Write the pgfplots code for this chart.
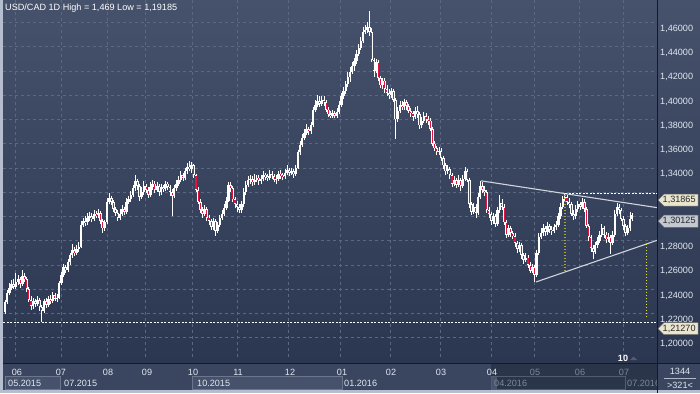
\documentclass[border=0pt]{standalone}
\usepackage{pgfplots}
\pgfplotsset{compat=1.18}
\usepackage{pgfplotstable}
\usepackage{fontspec}
\setmainfont{Liberation Sans}
\definecolor{bgtop}{HTML}{46526C}
\definecolor{bgbot}{HTML}{2B3650}
\definecolor{gridc}{HTML}{5C6882}
\definecolor{candred}{HTML}{E0143C}
\definecolor{panelc}{HTML}{3A4660}
\definecolor{boxc}{HTML}{46526B}
\definecolor{boxedge}{HTML}{6A768E}
\definecolor{ovlc}{HTML}{2B3549}
\definecolor{framec}{HTML}{B4BECE}
\definecolor{labc}{HTML}{E2E8F2}
\definecolor{greyc}{HTML}{7D8799}
\definecolor{tagbeige}{HTML}{E9E5CE}
\definecolor{taggrey}{HTML}{C3C8D1}
\definecolor{trendc}{HTML}{D0D4DC}
\definecolor{olivey}{HTML}{A8A82A}
\definecolor{yellowd}{HTML}{E6E020}
\definecolor{tric}{HTML}{5A5A6E}
\newcommand\lab{\fontsize{9.1bp}{11bp}\selectfont}

\pgfplotstableread{
o h l c
1.2215 1.2310 1.2195 1.2290
1.2290 1.2395 1.2275 1.2370
1.2370 1.2450 1.2350 1.2410
1.2410 1.2475 1.2390 1.2440
1.2440 1.2480 1.2400 1.2420
1.2420 1.2530 1.2405 1.2460
1.2460 1.2520 1.2430 1.2480
1.2480 1.2500 1.2410 1.2440
1.2440 1.2560 1.2425 1.2510
1.2510 1.2535 1.2455 1.2480
1.2480 1.2500 1.2380 1.2400
1.2400 1.2420 1.2290 1.2310
1.2310 1.2340 1.2230 1.2260
1.2260 1.2330 1.2240 1.2300
1.2300 1.2320 1.2250 1.2280
1.2280 1.2340 1.2260 1.2310
1.2310 1.2325 1.2220 1.2250
1.2250 1.2270 1.2127 1.2220
1.2220 1.2320 1.2200 1.2300
1.2300 1.2330 1.2245 1.2270
1.2270 1.2345 1.2255 1.2320
1.2320 1.2350 1.2280 1.2300
1.2300 1.2375 1.2285 1.2350
1.2350 1.2370 1.2300 1.2320
1.2320 1.2360 1.2290 1.2330
1.2330 1.2470 1.2315 1.2450
1.2450 1.2545 1.2430 1.2520
1.2520 1.2610 1.2500 1.2580
1.2580 1.2600 1.2530 1.2560
1.2560 1.2650 1.2540 1.2620
1.2620 1.2700 1.2600 1.2680
1.2680 1.2770 1.2660 1.2720
1.2720 1.2750 1.2670 1.2700
1.2700 1.2760 1.2680 1.2730
1.2730 1.2790 1.2710 1.2750
1.2750 1.2960 1.2740 1.2930
1.2930 1.2990 1.2910 1.2960
1.2960 1.3000 1.2920 1.2950
1.2950 1.3030 1.2930 1.2990
1.2990 1.3040 1.2960 1.3000
1.3000 1.3030 1.2950 1.2980
1.2980 1.3050 1.2960 1.3020
1.3020 1.3045 1.2985 1.3010
1.3010 1.3060 1.2990 1.3030
1.3030 1.3045 1.2940 1.2960
1.2960 1.2975 1.2860 1.2900
1.2900 1.2970 1.2880 1.2950
1.2950 1.3150 1.2940 1.3120
1.3120 1.3190 1.3100 1.3150
1.3150 1.3170 1.3090 1.3120
1.3120 1.3135 1.3040 1.3060
1.3060 1.3080 1.3000 1.3030
1.3030 1.3050 1.2960 1.2990
1.2990 1.3060 1.2970 1.3020
1.3020 1.3090 1.3000 1.3060
1.3060 1.3080 1.3010 1.3040
1.3040 1.3150 1.3020 1.3120
1.3120 1.3170 1.3100 1.3140
1.3140 1.3210 1.3120 1.3180
1.3180 1.3260 1.3160 1.3230
1.3230 1.3340 1.3210 1.3290
1.3290 1.3310 1.3220 1.3250
1.3250 1.3270 1.3130 1.3160
1.3160 1.3240 1.3140 1.3200
1.3200 1.3290 1.3180 1.3250
1.3250 1.3270 1.3190 1.3220
1.3220 1.3240 1.3150 1.3180
1.3180 1.3280 1.3160 1.3240
1.3240 1.3300 1.3220 1.3270
1.3270 1.3290 1.3190 1.3220
1.3220 1.3280 1.3200 1.3250
1.3250 1.3265 1.3170 1.3200
1.3200 1.3270 1.3180 1.3240
1.3240 1.3260 1.3200 1.3230
1.3230 1.3290 1.3210 1.3270
1.3270 1.3285 1.3215 1.3240
1.3240 1.3260 1.3170 1.3200
1.3200 1.3225 1.3000 1.3170
1.3170 1.3255 1.3150 1.3230
1.3230 1.3300 1.3210 1.3270
1.3270 1.3330 1.3250 1.3300
1.3300 1.3370 1.3280 1.3340
1.3340 1.3360 1.3290 1.3320
1.3320 1.3400 1.3300 1.3370
1.3370 1.3440 1.3350 1.3410
1.3410 1.3457 1.3370 1.3390
1.3390 1.3450 1.3360 1.3420
1.3420 1.3430 1.3320 1.3340
1.3340 1.3350 1.3200 1.3220
1.3220 1.3240 1.3100 1.3120
1.3120 1.3140 1.3030 1.3050
1.3050 1.3080 1.2990 1.3020
1.3020 1.3090 1.3000 1.3060
1.3060 1.3075 1.2960 1.2990
1.2990 1.3010 1.2930 1.2960
1.2960 1.2980 1.2890 1.2910
1.2910 1.2990 1.2890 1.2960
1.2960 1.2975 1.2840 1.2880
1.2880 1.2950 1.2860 1.2930
1.2930 1.3010 1.2910 1.2990
1.2990 1.3050 1.2970 1.3020
1.3020 1.3100 1.3000 1.3070
1.3070 1.3160 1.3050 1.3130
1.3130 1.3285 1.3120 1.3260
1.3260 1.3280 1.3200 1.3230
1.3230 1.3250 1.3120 1.3140
1.3140 1.3160 1.3070 1.3100
1.3100 1.3130 1.3040 1.3080
1.3080 1.3100 1.3030 1.3050
1.3050 1.3130 1.3030 1.3100
1.3100 1.3230 1.3080 1.3200
1.3200 1.3290 1.3180 1.3260
1.3260 1.3330 1.3240 1.3300
1.3300 1.3340 1.3270 1.3310
1.3310 1.3330 1.3250 1.3280
1.3280 1.3350 1.3260 1.3300
1.3300 1.3340 1.3280 1.3320
1.3320 1.3345 1.3260 1.3290
1.3290 1.3340 1.3270 1.3310
1.3310 1.3370 1.3290 1.3340
1.3340 1.3360 1.3300 1.3330
1.3330 1.3350 1.3290 1.3320
1.3320 1.3380 1.3300 1.3350
1.3350 1.3370 1.3310 1.3330
1.3330 1.3350 1.3280 1.3300
1.3300 1.3340 1.3270 1.3310
1.3310 1.3370 1.3290 1.3350
1.3350 1.3380 1.3310 1.3340
1.3340 1.3360 1.3300 1.3330
1.3330 1.3390 1.3310 1.3360
1.3360 1.3420 1.3340 1.3380
1.3380 1.3400 1.3330 1.3360
1.3360 1.3400 1.3340 1.3370
1.3370 1.3390 1.3320 1.3350
1.3350 1.3420 1.3330 1.3400
1.3400 1.3550 1.3390 1.3530
1.3530 1.3620 1.3510 1.3590
1.3590 1.3680 1.3570 1.3650
1.3650 1.3720 1.3630 1.3690
1.3690 1.3760 1.3670 1.3720
1.3720 1.3740 1.3670 1.3700
1.3700 1.3780 1.3680 1.3750
1.3750 1.3900 1.3740 1.3880
1.3880 1.3960 1.3860 1.3920
1.3920 1.4000 1.3900 1.3950
1.3950 1.3990 1.3900 1.3930
1.3930 1.3990 1.3910 1.3960
1.3960 1.3990 1.3910 1.3940
1.3940 1.3960 1.3860 1.3880
1.3880 1.3900 1.3820 1.3840
1.3840 1.3870 1.3810 1.3830
1.3830 1.3880 1.3810 1.3850
1.3850 1.3870 1.3810 1.3830
1.3830 1.3890 1.3815 1.3860
1.3860 1.3950 1.3840 1.3920
1.3920 1.4020 1.3900 1.3990
1.3990 1.4070 1.3970 1.4030
1.4030 1.4120 1.4010 1.4090
1.4090 1.4190 1.4070 1.4150
1.4150 1.4230 1.4110 1.4190
1.4190 1.4270 1.4170 1.4240
1.4240 1.4310 1.4200 1.4280
1.4280 1.4370 1.4260 1.4340
1.4340 1.4420 1.4320 1.4390
1.4390 1.4480 1.4370 1.4450
1.4450 1.4560 1.4430 1.4520
1.4520 1.4580 1.4500 1.4540
1.4540 1.4600 1.4510 1.4560
1.4560 1.4690 1.4490 1.4520
1.4520 1.4550 1.4270 1.4290
1.4290 1.4310 1.4150 1.4200
1.4200 1.4300 1.4180 1.4270
1.4270 1.4290 1.4120 1.4140
1.4140 1.4160 1.4060 1.4080
1.4080 1.4140 1.4050 1.4120
1.4120 1.4140 1.4020 1.4050
1.4050 1.4080 1.3990 1.4020
1.4020 1.4050 1.3970 1.4000
1.4000 1.4060 1.3980 1.4030
1.4030 1.4050 1.3940 1.3960
1.3960 1.3980 1.3640 1.3800
1.3800 1.3900 1.3780 1.3870
1.3870 1.3950 1.3850 1.3920
1.3920 1.3950 1.3880 1.3900
1.3900 1.3970 1.3880 1.3940
1.3940 1.3960 1.3880 1.3910
1.3910 1.3930 1.3850 1.3870
1.3870 1.3890 1.3820 1.3850
1.3850 1.3870 1.3790 1.3820
1.3820 1.3900 1.3800 1.3870
1.3870 1.3910 1.3810 1.3840
1.3840 1.3860 1.3720 1.3750
1.3750 1.3820 1.3730 1.3790
1.3790 1.3860 1.3770 1.3830
1.3830 1.3850 1.3770 1.3800
1.3800 1.3830 1.3750 1.3790
1.3790 1.3810 1.3700 1.3720
1.3720 1.3740 1.3580 1.3600
1.3600 1.3620 1.3540 1.3560
1.3560 1.3580 1.3510 1.3530
1.3530 1.3570 1.3510 1.3540
1.3540 1.3560 1.3460 1.3480
1.3480 1.3500 1.3390 1.3420
1.3420 1.3440 1.3340 1.3370
1.3370 1.3420 1.3350 1.3390
1.3390 1.3410 1.3310 1.3340
1.3340 1.3360 1.3240 1.3270
1.3270 1.3330 1.3250 1.3300
1.3300 1.3320 1.3230 1.3260
1.3260 1.3340 1.3240 1.3300
1.3300 1.3320 1.3210 1.3250
1.3250 1.3340 1.3230 1.3310
1.3310 1.3410 1.3290 1.3370
1.3370 1.3390 1.3280 1.3300
1.3300 1.3320 1.3070 1.3100
1.3100 1.3120 1.3010 1.3040
1.3040 1.3110 1.3020 1.3080
1.3080 1.3100 1.2990 1.3030
1.3030 1.3190 1.3010 1.3160
1.3160 1.3295 1.3140 1.3250
1.3250 1.3280 1.3190 1.3220
1.3220 1.3250 1.3170 1.3200
1.3200 1.3220 1.3030 1.3050
1.3050 1.3080 1.2990 1.3020
1.3020 1.3040 1.2930 1.2960
1.2960 1.3030 1.2940 1.3000
1.3000 1.3020 1.2910 1.2940
1.2940 1.3080 1.2920 1.3050
1.3050 1.3180 1.3030 1.3110
1.3110 1.3140 1.3050 1.3080
1.3080 1.3100 1.2930 1.2950
1.2950 1.2970 1.2820 1.2850
1.2850 1.2930 1.2830 1.2900
1.2900 1.2920 1.2830 1.2860
1.2860 1.2880 1.2810 1.2840
1.2840 1.2860 1.2750 1.2780
1.2780 1.2800 1.2700 1.2730
1.2730 1.2790 1.2710 1.2760
1.2760 1.2780 1.2650 1.2680
1.2680 1.2700 1.2610 1.2640
1.2640 1.2700 1.2620 1.2660
1.2660 1.2680 1.2570 1.2600
1.2600 1.2620 1.2530 1.2550
1.2550 1.2610 1.2530 1.2580
1.2580 1.2600 1.2460 1.2520
1.2520 1.2720 1.2500 1.2700
1.2700 1.2860 1.2680 1.2830
1.2830 1.2900 1.2810 1.2860
1.2860 1.2940 1.2840 1.2900
1.2900 1.2920 1.2840 1.2870
1.2870 1.2950 1.2850 1.2920
1.2920 1.2940 1.2860 1.2890
1.2890 1.2920 1.2850 1.2880
1.2880 1.2940 1.2860 1.2910
1.2910 1.2960 1.2890 1.2930
1.2930 1.3030 1.2910 1.3000
1.3000 1.3110 1.2980 1.3080
1.3080 1.3170 1.3060 1.3140
1.3140 1.3187 1.3120 1.3160
1.3160 1.3180 1.3090 1.3120
1.3120 1.3150 1.3070 1.3100
1.3100 1.3120 1.3000 1.3020
1.3020 1.3050 1.2970 1.3000
1.3000 1.3090 1.2980 1.3060
1.3060 1.3130 1.3040 1.3100
1.3100 1.3120 1.3050 1.3080
1.3080 1.3150 1.3060 1.3120
1.3120 1.3140 1.3040 1.3060
1.3060 1.3080 1.2900 1.2920
1.2920 1.2940 1.2800 1.2830
1.2830 1.2850 1.2710 1.2740
1.2740 1.2760 1.2650 1.2710
1.2710 1.2790 1.2690 1.2760
1.2760 1.2830 1.2740 1.2800
1.2800 1.2880 1.2780 1.2850
1.2850 1.2940 1.2830 1.2900
1.2900 1.2920 1.2820 1.2850
1.2850 1.2870 1.2780 1.2810
1.2810 1.2860 1.2790 1.2830
1.2830 1.2850 1.2690 1.2780
1.2780 1.2880 1.2760 1.2850
1.2850 1.3050 1.2830 1.3020
1.3020 1.3110 1.3000 1.3080
1.3080 1.3100 1.3020 1.3050
1.3050 1.3070 1.2960 1.2980
1.2980 1.3000 1.2890 1.2920
1.2920 1.2940 1.2840 1.2860
1.2860 1.2930 1.2850 1.2900
1.2900 1.3040 1.2880 1.2980
1.2980 1.3030 1.2960 1.3010
}\candles

\begin{document}
\begin{tikzpicture}[x=1bp,y=1bp]
\useasboundingbox (0,0) rectangle (700,393);
\shade[top color=bgtop, bottom color=bgbot] (0,30) rectangle (700,393);
\fill[panelc] (0,0) rectangle (700,30);
\fill[boxc] (5,3) rectangle (60,17);
\draw[boxedge, line width=0.6bp] (5,3.3) rectangle (60,17);
\fill[boxc] (192,3) rectangle (342,17);
\draw[boxedge, line width=0.6bp] (192,3.3) rectangle (342,17);
\fill[ovlc] (491,3) rectangle (657,30);
\fill[boxedge!50!ovlc] (491,3) rectangle (497,17);
\draw[draw=boxedge!60!ovlc, line width=0.6bp] (491,3.3) rectangle (625,17);

\begin{axis}[at={(3,30)}, anchor=south west, scale only axis,
  width=654bp, height=363bp,
  xmin=0, xmax=654, ymin=1.18433, ymax=1.48367,
  axis line style={draw=none}, tick style={draw=none},
  xtick={12,58,104,142,189,234,285,337,387,437,488,531,576,620},
  ytick={1.20,1.22,1.24,1.26,1.28,1.30,1.32,1.34,1.36,1.38,1.40,1.42,1.44,1.46},
  xticklabels={}, yticklabels={},
  xmajorgrids, ymajorgrids,
  major grid style={gridc, dash pattern=on 3bp off 3bp, line width=0.6bp},
]
% wicks
\addplot[draw=none, mark=none, error bars/.cd, y dir=both, y explicit, error mark=none,
  error bar style={draw=white, line width=0.8bp, solid}]
  table[x expr={2+2.17*\coordindex}, y expr={(\thisrow{h}+\thisrow{l})/2},
        y error expr={(\thisrow{h}-\thisrow{l})/2}]{\candles};
% bodies
\addplot[draw=none, mark=none, error bars/.cd, y dir=both, y explicit, error mark=none,
  error bar style={draw=white, line width=2.4bp, solid}]
  table[x expr={2+2.17*\coordindex}, y expr={(\thisrow{o}+\thisrow{c})/2},
        y error expr={max(abs(\thisrow{c}-\thisrow{o})/2,0.0004)}]{\candles};
% red cores of falling candles
\addplot[draw=none, mark=none, error bars/.cd, y dir=both, y explicit, error mark=none,
  error bar style={draw=candred, line width=1.1bp, solid}]
  table[x expr={2+2.17*\coordindex},
        y expr={\thisrow{c}<\thisrow{o} ? (\thisrow{o}+\thisrow{c})/2 : nan},
        y error expr={max((\thisrow{o}-\thisrow{c})/2-0.0007,0.00025)}]{\candles};
% trend lines and levels
\addplot[trendc, line width=1.1bp] coordinates {(478,1.3293) (654,1.3072)};
\addplot[trendc, line width=1.1bp] coordinates {(533,1.2459) (654,1.2802)};
\addplot[white, line width=0.8bp, dash pattern=on 2bp off 1.5bp] coordinates {(562,1.31865) (654,1.31865)};
\addplot[white, line width=0.8bp, dash pattern=on 2bp off 1.5bp] coordinates {(0,1.2127) (654,1.2127)};
\addplot[olivey, line width=1.6bp, dash pattern=on 1.5bp off 1.5bp] coordinates {(562,1.3180) (562,1.2553)};
\addplot[yellowd, line width=0.8bp, dash pattern=on 1.5bp off 1.5bp] coordinates {(643,1.2775) (643,1.2157)};
\end{axis}

% frame lines
\fill[framec] (0,0) rectangle (3,393);
\fill[framec] (0,0) rectangle (700,3);
\draw[black!90, line width=1bp] (657,0) -- (657,393);
\draw[black!90, line width=1bp] (3,30) -- (700,30);

% title
\node[anchor=west, text=white, inner sep=0pt, font=\lab] at (5,385) {USD/CAD 1D High = 1,469 Low = 1,19185};

% right price labels
\begin{scope}[every node/.style={anchor=west, text=labc, inner sep=0pt, font=\lab}]
\node at (660,364.3) {1,46000};
\node at (660,340.05) {1,44000};
\node at (660,315.79) {1,42000};
\node at (660,291.54) {1,40000};
\node at (660,267.28) {1,38000};
\node at (660,243.03) {1,36000};
\node at (660,218.78) {1,34000};
\node at (660,146.01) {1,28000};
\node at (660,121.76) {1,26000};
\node at (660,97.5) {1,24000};
\node at (660,73.25) {1,22000};
\node at (660,49.0) {1,20000};
\end{scope}

% price tags
\filldraw[fill=tagbeige, draw=black!60, line width=0.5bp] (658,192.9) -- (664,199) -- (698,199) -- (698,186.8) -- (664,186.8) -- cycle;
\node[anchor=west, text=black!85, inner sep=0pt, font=\lab] at (662.5,192.9) {1,31865};
\filldraw[fill=taggrey, draw=black!60, line width=0.5bp] (658,171.8) -- (664,177.9) -- (698,177.9) -- (698,165.7) -- (664,165.7) -- cycle;
\node[anchor=west, text=black!85, inner sep=0pt, font=\lab] at (662.5,171.8) {1,30125};
\filldraw[fill=tagbeige, draw=black!60, line width=0.5bp] (658,64.4) -- (664,70.5) -- (698,70.5) -- (698,58.3) -- (664,58.3) -- cycle;
\node[anchor=west, text=black!85, inner sep=0pt, font=\lab] at (662.5,64.4) {1,21270};

% month labels
\begin{scope}[every node/.style={text=labc, inner sep=0pt, font=\lab}]
\node at (17,21) {06};
\node at (61,21) {07};
\node at (108,21) {08};
\node at (147,21) {09};
\node at (193,21) {10};
\node at (238,21) {11};
\node at (290,21) {12};
\node at (342,21) {01};
\node at (391,21) {02};
\node at (441,21) {03};
\node at (492,21) {04};
\node[text=greyc] at (535,21) {05};
\node[text=greyc] at (580,21) {06};
\node[text=greyc] at (624,21) {07};
\end{scope}
% year labels
\begin{scope}[every node/.style={anchor=west, text=labc, inner sep=0pt, font=\lab}]
\node at (8,10) {05.2015};
\node at (64,10) {07.2015};
\node at (197,10) {10.2015};
\node at (344,10) {01.2016};
\node[text=greyc] at (494,10) {04.2016};
\end{scope}
\begin{scope}
\clip (600,3) rectangle (656.5,30);
\node[anchor=west, text=greyc, inner sep=0pt, font=\lab] at (627,10) {07.2016};
\end{scope}
% bottom right cell
\node[text=labc, inner sep=0pt, font=\lab] at (680,22) {1344};
\draw[labc!70!panelc, line width=0.5bp] (664,15) -- (696,15);
\node[text=labc, inner sep=0pt, font=\lab] at (680,8) {>321<};
% bar counter
\node[text=white, inner sep=0pt, font=\lab\bfseries] at (623,34.5) {10};
\fill[tric] (630,33) -- (637,33) -- (633.5,36.5) -- cycle;
\end{tikzpicture}
\end{document}
